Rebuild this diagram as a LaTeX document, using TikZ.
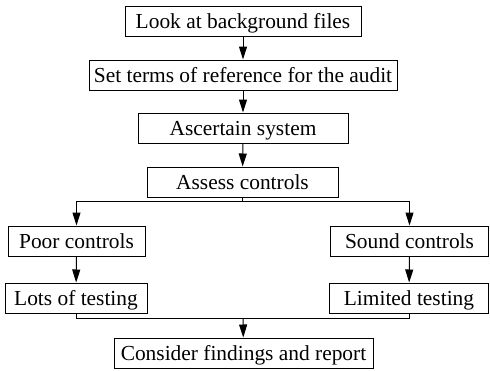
\documentclass[tikz,border=0pt]{standalone}
\usepackage{fontspec}
\setmainfont{Liberation Serif}
\usetikzlibrary{arrows.meta}
\begin{document}
\begin{tikzpicture}[x=1pt,y=-1pt,
  box/.style={draw,line width=1pt,rectangle,inner sep=0pt,minimum height=30pt,
    text height=14pt,text depth=0pt,
    font=\fontsize{21.4}{25}\selectfont},
  conn/.style={line width=1pt},
  arr/.style={conn,-{Triangle[length=13pt,width=8pt]}}]
\useasboundingbox (0,0) rectangle (490,370);
\node[box,minimum width=236pt] (b1) at (243,21) {Look at background files};
\node[box,minimum width=308pt] (b2) at (243,75) {Set terms of reference for the audit};
\node[box,minimum width=210pt] (b3) at (243,128) {Ascertain system};
\node[box,minimum width=191pt] (b4) at (242.5,182) {Assess controls};
\node[box,minimum width=137pt] (b5) at (76.5,241) {Poor controls};
\node[box,minimum width=158pt] (b6) at (409.5,241) {Sound controls};
\node[box,minimum width=142pt] (b7) at (76,298) {Lots of testing};
\node[box,minimum width=159pt] (b8) at (409,298) {Limited testing};
\node[box,minimum width=259pt] (b9) at (243.5,353) {Consider findings and report};
\coordinate (s) at (242.5,201);
\coordinate (m) at (243,318);
\draw[arr] (b1) -- (b2);
\draw[arr] (b2) -- (b3);
\draw[arr] (b3) -- (b4);
\draw[conn] (b4) -- (s);
\draw[arr] (s) -| (b5);
\draw[arr] (s) -| (b6);
\draw[arr] (b5) -- (b7);
\draw[arr] (b6) -- (b8);
\draw[conn] (b7) |- (m);
\draw[conn] (b8) |- (m);
\draw[arr] (m) -- (b9);
\end{tikzpicture}
\end{document}
